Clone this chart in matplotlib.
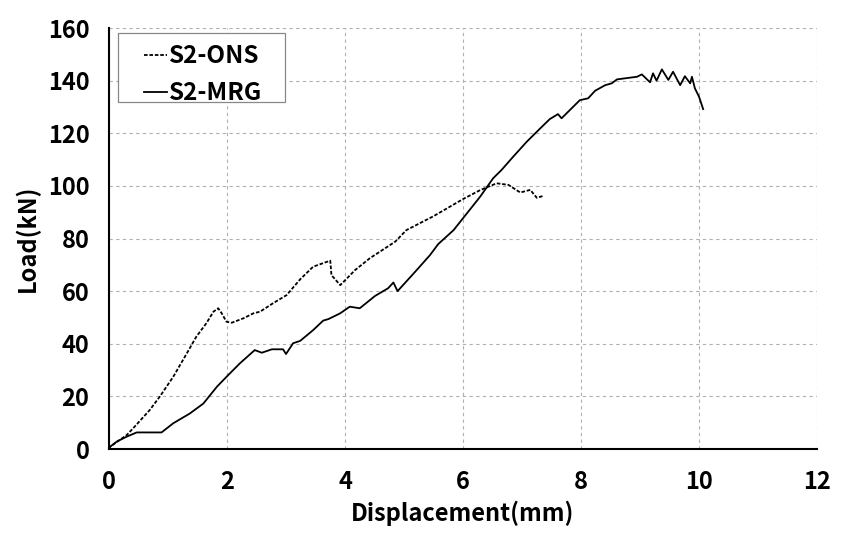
import matplotlib
matplotlib.use("Agg")
from matplotlib import pyplot as plt
from matplotlib.patches import Rectangle

# S2-ONS (dashed)
ons_disp = [0.0, 0.02, 0.3, 0.41, 0.69, 0.86, 1.09, 1.32, 1.48, 1.65, 1.77, 1.85, 1.91, 1.99, 2.08,
            2.28, 2.45, 2.56, 2.78, 3.01, 3.24, 3.46, 3.75, 3.77, 3.92, 4.17, 4.42, 4.85, 5.04,
            5.5, 6.0, 6.29, 6.57, 6.77, 6.97, 7.14, 7.25, 7.36]
ons_load = [0.0, 0.9, 5.3, 7.9, 14.8, 19.9, 27.5, 36.4, 42.7, 47.8, 52.2, 53.5, 51.6, 48.4, 48.0,
            49.7, 51.6, 52.2, 55.4, 58.5, 64.5, 69.3, 71.6, 66.1, 62.3, 68.0, 72.5, 78.8, 83.2,
            88.5, 95.0, 98.4, 101.0, 100.4, 97.5, 98.5, 95.5, 96.2]

# S2-MRG (solid)
mrg_disp = [0.0, 0.02, 0.13, 0.3, 0.47, 0.89, 1.09, 1.37, 1.6, 1.83, 2.02, 2.22, 2.47, 2.59, 2.76,
            2.95, 3.0, 3.12, 3.24, 3.46, 3.63, 3.72, 3.92, 4.08, 4.25, 4.51, 4.73, 4.82, 4.89,
            5.19, 5.44, 5.58, 5.84, 6.29, 6.51, 6.65, 6.85, 7.08, 7.31, 7.47, 7.61, 7.67, 7.98,
            8.12, 8.24, 8.41, 8.52, 8.61, 8.95, 9.03, 9.17, 9.22, 9.28, 9.37, 9.48, 9.56, 9.68,
            9.76, 9.85, 9.88, 9.93, 10.0, 10.07]
mrg_load = [0.0, 0.9, 2.8, 4.7, 6.3, 6.3, 9.8, 13.5, 17.3, 23.7, 28.1, 32.6, 37.6, 36.6, 37.9,
            37.9, 36.1, 40.2, 41.1, 45.2, 48.8, 49.4, 51.6, 54.1, 53.5, 58.2, 61.1, 63.3, 60.0,
            67.4, 73.7, 77.9, 83.2, 95.9, 102.9, 106.0, 111.1, 116.8, 121.9, 125.4, 127.3, 125.7, 132.6,
            133.3, 136.2, 138.3, 139.0, 140.5, 141.5, 142.4, 139.4, 142.8, 140.0, 144.3, 140.3, 143.4, 138.3,
            141.7, 139.0, 141.5, 137.1, 133.9, 129.2]

x_ticks = [0, 2, 4, 6, 8, 10, 12]
y_ticks = [0, 20, 40, 60, 80, 100, 120, 140, 160]

plt.rcParams['font.family'] = ['Noto Sans CJK KR', 'DejaVu Sans']
plt.rcParams['font.weight'] = 'bold'
fs = 17

fig = plt.figure(figsize=(8.43, 5.40), dpi=100)
ax = fig.add_axes([0.1293, 0.1685, 0.8399, 0.7795])

ax.plot(ons_disp, ons_load, linestyle=(0, (2, 1)), color='black', linewidth=1.3, label='S2-ONS')
ax.plot(mrg_disp, mrg_load, linestyle='-', color='black', linewidth=1.3, label='S2-MRG')

ax.set_xlim(0, 12)
ax.set_ylim(0, 160)
ax.set_xticks(x_ticks)
ax.set_yticks(y_ticks)
ax.tick_params(axis='y', length=0, labelsize=fs, pad=14)
ax.tick_params(axis='x', length=0, labelsize=fs, pad=15)
for lab in ax.get_xticklabels() + ax.get_yticklabels():
    lab.set_fontweight('bold')

ax.grid(True, linestyle=(0, (3, 3)), color='#b0b0b0', linewidth=0.8)
ax.set_axisbelow(True)
for side in ['top', 'right']:
    ax.spines[side].set_visible(False)
for side in ['left', 'bottom']:
    ax.spines[side].set_linewidth(1.5)

ax.set_xlabel('Displacement(mm)', fontsize=fs, fontweight='bold', labelpad=5)
ax.set_ylabel('Load(kN)', fontsize=fs, fontweight='bold', labelpad=6)

# legend box drawn separately (wide side padding like the original)
ax.add_patch(Rectangle((0.0127, 0.824), 0.236, 0.164, transform=ax.transAxes, fill=True,
                       facecolor='white', edgecolor='#888888', linewidth=0.9, zorder=4))
leg = ax.legend(loc='upper left', bbox_to_anchor=(0.049, 0.962), fontsize=17.5, frameon=False,
                handlelength=0.95, handletextpad=0.1, borderpad=0.0, borderaxespad=0,
                labelspacing=0.55)
leg.set_zorder(5)
for t in leg.get_texts():
    t.set_fontweight('bold')

fig.savefig('out.png', dpi=100)
